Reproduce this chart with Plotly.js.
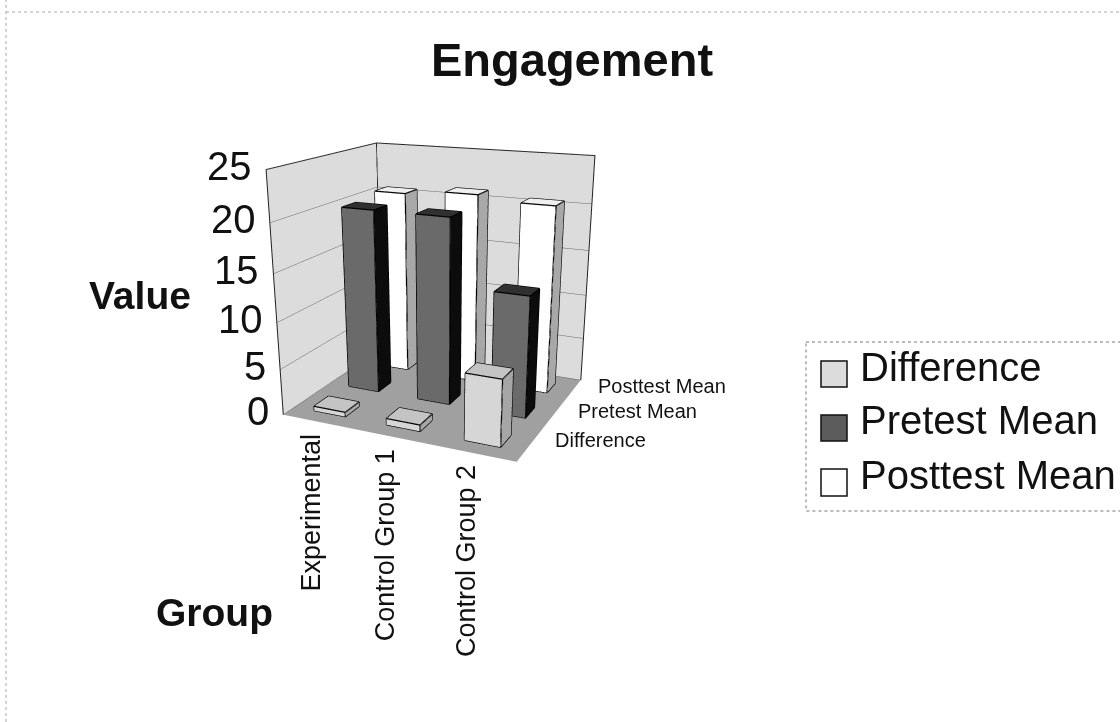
<!DOCTYPE html>
<html><head><meta charset="utf-8">
<script src="https://cdn.plot.ly/plotly-3.0.1.min.js"></script>
<style>html,body{margin:0;padding:0;background:#fff}#c{width:1120px;height:722px}</style>
</head><body><div id="c"></div>
<script>
const groups = ["Experimental","Control Group 1","Control Group 2"];
const seriesNames = ["Difference","Pretest Mean","Posttest Mean"];
const difference = [0.5,0.7,7];
const pretest = [20,20,13];
const posttest = [20.5,21,20.5];
const zTicks = [0,5,10,15,20,25];
const seriesValues = [difference,pretest,posttest];
const faceColors = [
  {front:"#d6d6d6",side:"#a6a6a6",top:"#c4c4c4"},
  {front:"#6a6a6a",side:"#0c0c0c",top:"#303030"},
  {front:"#ffffff",side:"#a8a8a8",top:"#f0f0f0"}
];
const hw = 0.22, hd = 0.2;
const traces = [];
const lx=[],ly=[],lz=[];
seriesValues.forEach((vals,s)=>{
  const X=[],Y=[],Z=[],I=[],J=[],K=[],F=[];
  vals.forEach((v,g)=>{
    const x0=g+.5-hw,x1=g+.5+hw,y0=s+.5-hd,y1=s+.5+hd,b=X.length;
    [[x0,y0,0],[x1,y0,0],[x1,y1,0],[x0,y1,0],[x0,y0,v],[x1,y0,v],[x1,y1,v],[x0,y1,v]].forEach(p=>{X.push(p[0]);Y.push(p[1]);Z.push(p[2]);});
    const c=faceColors[s];
    const quad=(a,bb,cc,d,col)=>{I.push(b+a,b+a);J.push(b+bb,b+cc);K.push(b+cc,b+d);F.push(col,col);};
    quad(0,1,5,4,c.front);quad(1,2,6,5,c.side);quad(4,5,6,7,c.top);quad(3,0,4,7,c.side);quad(2,3,7,6,c.side);
    [[0,1],[1,5],[5,4],[4,0],[1,2],[2,6],[6,5],[6,7],[7,4]].forEach(e=>{
      lx.push(X[b+e[0]],X[b+e[1]],null);ly.push(Y[b+e[0]],Y[b+e[1]],null);lz.push(Z[b+e[0]],Z[b+e[1]],null);
    });
  });
  traces.push({type:"mesh3d",name:seriesNames[s],x:X,y:Y,z:Z,i:I,j:J,k:K,facecolor:F,flatshading:true,
    lighting:{ambient:1,diffuse:0,specular:0,roughness:1,fresnel:0},showscale:false,hoverinfo:"skip"});
});
traces.push({type:"scatter3d",mode:"lines",x:lx,y:ly,z:lz,line:{color:"#000",width:2.5},showlegend:false,hoverinfo:"skip"});
const xMax=groups.length,yMax=seriesNames.length,zMax=zTicks[zTicks.length-1];
traces.push({type:"scatter3d",mode:"lines",
  x:[0,0,0,xMax,xMax,null,0,0],y:[0,0,yMax,yMax,yMax,null,yMax,yMax],z:[0,zMax,zMax,zMax,0,null,0,zMax],
  line:{color:"#222",width:2},showlegend:false,hoverinfo:"skip"});

const ann3d=[];
zTicks.forEach(t=>ann3d.push({x:0,y:0,z:t,text:String(t),showarrow:false,xanchor:"right",xshift:-12,yshift:4,font:{size:40,color:"#111",family:"Liberation Sans"}}));
groups.forEach((g,i)=>ann3d.push({x:i+.5,y:0,z:0,text:g,showarrow:false,textangle:-90,yanchor:"top",xshift:-8,yshift:-10,font:{size:27,color:"#111",family:"Liberation Sans"}}));
seriesNames.forEach((n,i)=>ann3d.push({x:xMax,y:i+.5,z:0,text:n,showarrow:false,xanchor:"left",xshift:24,yshift:6,font:{size:20,color:"#111",family:"Liberation Sans"}}));

const legendText=[367,420,475], legendBox=[[361,387],[415,441],[469,496]], legCol=["#dcdcdc","#5c5c5c","#ffffff"];
const P=(px)=>px/1120, Q=(py)=>1-py/722;
const shapes=[
 {type:"rect",xref:"paper",yref:"paper",x0:P(806),x1:1.01,y0:Q(342),y1:Q(511),line:{color:"#777",width:1,dash:"dot"}},
 {type:"line",xref:"paper",yref:"paper",x0:P(6),x1:P(6),y0:0,y1:1,line:{color:"#aaa",width:1,dash:"dot"}},
 {type:"line",xref:"paper",yref:"paper",x0:P(6),x1:1,y0:Q(12),y1:Q(12),line:{color:"#aaa",width:1,dash:"dot"}}
];
const big=(x,y,t,s)=>({xref:"paper",yref:"paper",x:P(x),y:Q(y),xanchor:"center",yanchor:"middle",text:"<b>"+t+"</b>",showarrow:false,font:{size:s,color:"#111",family:"Liberation Sans"}});
const anns=[big(572,60,"Engagement",47),big(140,295,"Value",39),big(214,612,"Group",39)];
seriesNames.forEach((n,i)=>{
  shapes.push({type:"rect",xref:"paper",yref:"paper",x0:P(821),x1:P(847),y0:Q(legendBox[i][0]),y1:Q(legendBox[i][1]),fillcolor:legCol[i],line:{color:"#111",width:1.5}});
  anns.push({xref:"paper",yref:"paper",x:P(858),y:Q(legendText[i]),xanchor:"left",yanchor:"middle",text:n,showarrow:false,font:{size:40,color:"#111",family:"Liberation Sans"}});
});
const ax=(o)=>Object.assign({title:{text:""},showticklabels:false,showspikes:false,showline:false,
  showgrid:false,gridcolor:"#666",gridwidth:1,zeroline:false,showbackground:true,ticks:""},o);
const layout={
 width:1120,height:722,margin:{l:0,r:0,t:0,b:0},paper_bgcolor:"#fff",showlegend:false,
 shapes:shapes,annotations:anns,
 scene:{domain:{x:[0.042,0.742],y:[0,1]},
  xaxis:ax({range:[0,xMax],backgroundcolor:"#dcdcdc"}),
  yaxis:ax({range:[0,yMax],backgroundcolor:"#dcdcdc"}),
  zaxis:ax({range:[0,zMax],tickvals:zTicks,showgrid:true,backgroundcolor:"#a0a0a0"}),
  aspectmode:"manual",aspectratio:{x:1.11,y:0.95,z:1.09},
  camera:{eye:{x:1.55,y:-3.45,z:1.085},center:{x:0,y:0,z:-0.365},up:{x:0,y:0,z:1},projection:{type:"perspective"}},
  annotations:ann3d}
};
Plotly.newPlot("c",traces,layout,{displayModeBar:false});
</script></body></html>
